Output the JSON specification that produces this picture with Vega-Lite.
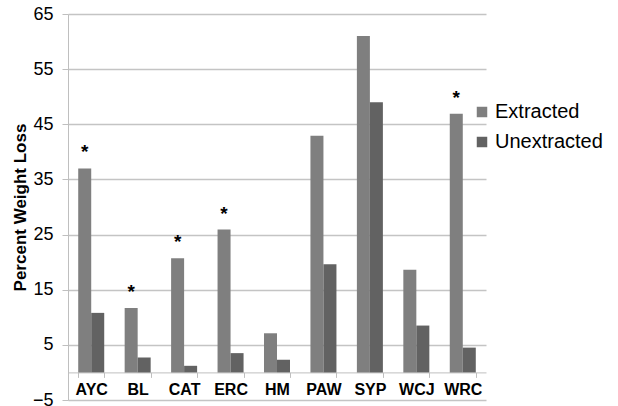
{
  "$schema": "https://vega.github.io/schema/vega-lite/v6.json",
  "width": 418,
  "height": 386,
  "autosize": "none",
  "padding": {"left": 68, "top": 14, "right": 132, "bottom": 6},
  "background": "white",
  "config": {
    "view": {"stroke": null},
    "font": "Liberation Sans"
  },
  "data": {
    "values": [
      {"site": "AYC", "type": "Extracted", "loss": 37.0, "sig": "*"},
      {"site": "AYC", "type": "Unextracted", "loss": 10.8, "sig": ""},
      {"site": "BL", "type": "Extracted", "loss": 11.7, "sig": "*"},
      {"site": "BL", "type": "Unextracted", "loss": 2.7, "sig": ""},
      {"site": "CAT", "type": "Extracted", "loss": 20.7, "sig": "*"},
      {"site": "CAT", "type": "Unextracted", "loss": 1.2, "sig": ""},
      {"site": "ERC", "type": "Extracted", "loss": 25.9, "sig": "*"},
      {"site": "ERC", "type": "Unextracted", "loss": 3.5, "sig": ""},
      {"site": "HM", "type": "Extracted", "loss": 7.1, "sig": ""},
      {"site": "HM", "type": "Unextracted", "loss": 2.3, "sig": ""},
      {"site": "PAW", "type": "Extracted", "loss": 42.9, "sig": ""},
      {"site": "PAW", "type": "Unextracted", "loss": 19.6, "sig": ""},
      {"site": "SYP", "type": "Extracted", "loss": 61.0, "sig": ""},
      {"site": "SYP", "type": "Unextracted", "loss": 49.0, "sig": ""},
      {"site": "WCJ", "type": "Extracted", "loss": 18.6, "sig": ""},
      {"site": "WCJ", "type": "Unextracted", "loss": 8.5, "sig": ""},
      {"site": "WRC", "type": "Extracted", "loss": 46.9, "sig": "*"},
      {"site": "WRC", "type": "Unextracted", "loss": 4.5, "sig": ""}
    ]
  },
  "encoding": {
    "x": {
      "field": "site",
      "type": "nominal",
      "sort": ["AYC", "BL", "CAT", "ERC", "HM", "PAW", "SYP", "WCJ", "WRC"],
      "scale": {"paddingInner": 0.44, "paddingOuter": 0.22},
      "axis": {
        "title": null,
        "offset": -27.6,
        "labelAngle": 0,
        "labelFontSize": 16,
        "labelFontWeight": "bold",
        "labelColor": "#000000",
        "labelPadding": 4,
        "tickSize": 5,
        "tickBand": "extent",
        "tickColor": "#bfbfbf",
        "domainColor": "#bfbfbf",
        "grid": false
      }
    },
    "xOffset": {"field": "type", "type": "nominal", "sort": ["Extracted", "Unextracted"]},
    "y": {
      "field": "loss",
      "type": "quantitative",
      "scale": {"domain": [-5, 65], "nice": false, "zero": false},
      "axis": {
        "title": "Percent Weight Loss",
        "titleFontSize": 17,
        "titleFontWeight": "bold",
        "titleColor": "#000000",
        "titlePadding": 3,
        "values": [-5, 5, 15, 25, 35, 45, 55, 65],
        "labelFontSize": 18,
        "labelColor": "#000000",
        "labelPadding": 9,
        "tickSize": 6,
        "tickColor": "#bfbfbf",
        "domainColor": "#bfbfbf",
        "gridColor": "#c4c4c4",
        "gridWidth": 1.3
      }
    }
  },
  "layer": [
    {
      "mark": {"type": "bar"},
      "encoding": {
        "y2": {"datum": 0},
        "color": {
          "field": "type",
          "type": "nominal",
          "scale": {"domain": ["Extracted", "Unextracted"], "range": ["#7f7f7f", "#626262"]},
          "legend": {
            "title": null,
            "orient": "none",
            "legendX": 404,
            "legendY": 88,
            "symbolType": "square",
            "symbolSize": 110,
            "symbolStrokeWidth": 0,
            "labelFontSize": 20,
            "labelColor": "#000000",
            "labelOffset": 3,
            "rowPadding": 10
          }
        }
      }
    },
    {
      "transform": [{"filter": "datum.sig === '*'"}],
      "mark": {"type": "text", "fontSize": 19, "fontWeight": "bold", "baseline": "alphabetic", "dy": -10, "color": "#000000"},
      "encoding": {
        "text": {"field": "sig"}
      }
    }
  ]
}
